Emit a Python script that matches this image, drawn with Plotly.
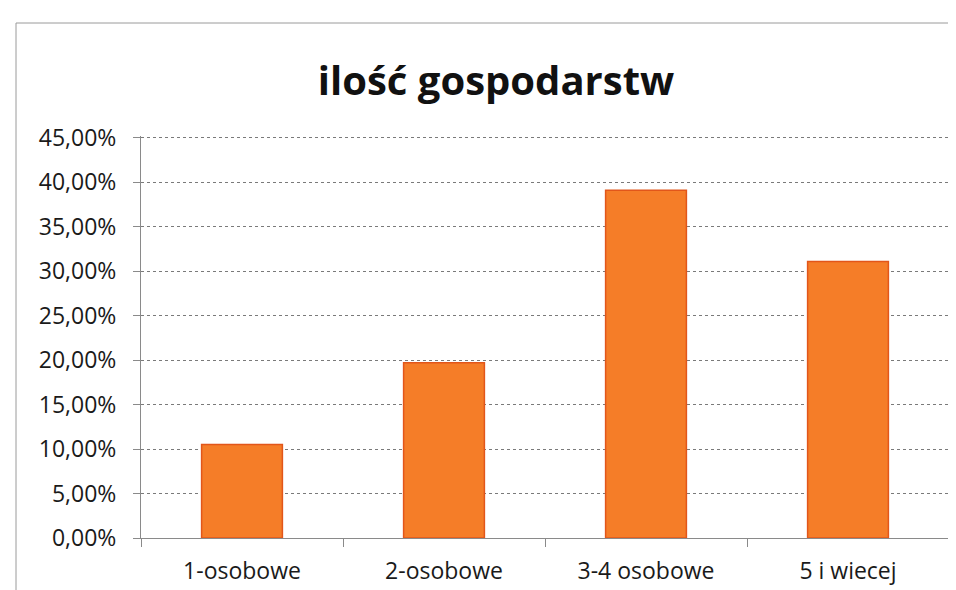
import plotly.graph_objects as go

categories = ["1-osobowe", "2-osobowe", "3-4 osobowe", "5 i wiecej"]
values = [0.105, 0.197, 0.391, 0.311]
title_text = "ilość gospodarstw"

fig = go.Figure()
fig.add_trace(go.Bar(
    x=categories, y=values,
    marker=dict(color="#F57D28", line=dict(color="#E2561A", width=1.5)),
    width=0.4,
))

L, R, T, B = 133, 15, 128, 60
W, H = 956, 590
pw, ph = W - L - R, H - T - B

def px(x):
    return (x - L) / pw

def py(y):
    return (H - B - y) / ph

fig.update_layout(
    width=W, height=H,
    margin=dict(l=L, r=R, t=T, b=B),
    paper_bgcolor="white", plot_bgcolor="white",
    separators=", ",
    showlegend=False,
    font=dict(family="Open Sans", color="#1a1a1a"),
    title=dict(text=title_text, x=(488) / W, xanchor="center",
               y=1 - 73 / H, yanchor="middle",
               font=dict(family="Open Sans", size=40, color="#111111", weight="bold")),
    xaxis=dict(
        type="category", tickson="boundaries", ticks="outside", ticklen=8,
        tickcolor="#8a8a8a", showline=True, linecolor="#8a8a8a", linewidth=1,
        tickfont=dict(size=23, color="#1a1a1a"), showgrid=False,
        ticklabelstandoff=12,
    ),
    yaxis=dict(
        range=[0, 0.452], dtick=0.05, tickformat=".2%",
        ticks="outside", ticklen=7, tickcolor="#8a8a8a",
        showline=True, linecolor="#8a8a8a", linewidth=1,
        showgrid=True, gridcolor="#7a7a7a", griddash="dot", gridwidth=1,
        tickfont=dict(size=23, color="#1a1a1a"), zeroline=False,
        ticklabelstandoff=12,
    ),
    shapes=[
        dict(type="line", xref="paper", yref="paper",
             x0=px(8), x1=px(W), y0=py(15), y1=py(15),
             line=dict(color="#9a9a9a", width=1)),
        dict(type="line", xref="paper", yref="paper",
             x0=px(8), x1=px(8), y0=py(15), y1=py(H),
             line=dict(color="#9a9a9a", width=1)),
    ],
)

fig.write_html("out.html")
